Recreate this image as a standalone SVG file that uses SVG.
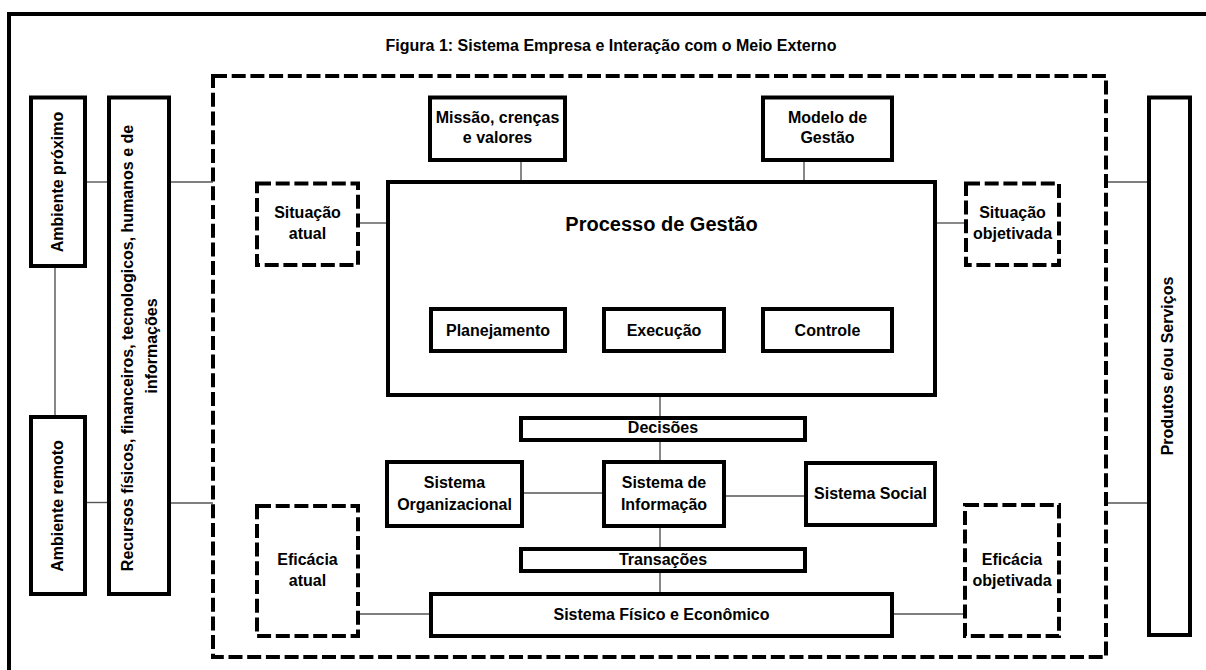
<svg xmlns="http://www.w3.org/2000/svg" width="1206" height="670" viewBox="0 0 1206 670">
<style>
.box{fill:#fff;stroke:#000;stroke-width:4}
.dash{fill:#fff;stroke:#000;stroke-width:4;stroke-dasharray:14 4.7}
.frame{fill:none;stroke:#000;stroke-width:4}
.con line{stroke:#555;stroke-width:1.4}
text{font-family:"Liberation Sans",Arial,sans-serif;font-weight:bold;font-size:16px;fill:#000;text-anchor:middle}
.big{font-size:20px}
</style>
<rect width="1206" height="670" fill="#fff"/>
<rect class="frame" x="9" y="14" width="1215" height="680"/>
<text x="611" y="51">Figura 1: Sistema Empresa e Interação com o Meio Externo</text>
<g class="con">
<line x1="85" y1="182" x2="109" y2="182"/>
<line x1="169" y1="182" x2="213" y2="182"/>
<line x1="55" y1="266" x2="55" y2="417"/>
<line x1="85" y1="502.5" x2="109" y2="502.5"/>
<line x1="169" y1="503" x2="213" y2="503"/>
<line x1="358" y1="223" x2="388" y2="223"/>
<line x1="935" y1="223" x2="966" y2="223"/>
<line x1="521" y1="160" x2="521" y2="182"/>
<line x1="804" y1="160" x2="804" y2="182"/>
<line x1="1106" y1="182" x2="1149" y2="182"/>
<line x1="1106" y1="503" x2="1149" y2="503"/>
<line x1="565" y1="330" x2="604" y2="330"/>
<line x1="724" y1="330" x2="763" y2="330"/>
<line x1="660" y1="395" x2="660" y2="418"/>
<line x1="660" y1="440" x2="660" y2="462"/>
<line x1="522" y1="493" x2="604" y2="493"/>
<line x1="724" y1="496" x2="806" y2="496"/>
<line x1="660" y1="526" x2="660" y2="549"/>
<line x1="660" y1="571" x2="660" y2="594"/>
<line x1="358" y1="614" x2="431" y2="614"/>
<line x1="892" y1="614" x2="965" y2="614"/>
</g>
<g id="empresa"><rect class="dash" x="213" y="76" width="893" height="581" fill="none" style="fill:none"/></g>
<g id="ambiente-proximo"><rect class="box" x="31" y="97.5" width="54" height="168.5"/><text transform="translate(63,182) rotate(-90)">Ambiente próximo</text></g>
<g id="ambiente-remoto"><rect class="box" x="31" y="417" width="54" height="177"/><text transform="translate(63,506) rotate(-90)">Ambiente remoto</text></g>
<g id="recursos"><rect class="box" x="109" y="97.5" width="60" height="496.5"/><text transform="translate(133.3,348) rotate(-90)">Recursos físicos, financeiros, tecnologicos, humanos e de</text><text transform="translate(156.5,346) rotate(-90)">informações</text></g>
<g id="produtos"><rect class="box" x="1149" y="97.5" width="41" height="537.5"/><text transform="translate(1173.3,366) rotate(-90)">Produtos e/ou Serviços</text></g>
<g id="missao"><rect class="box" x="430" y="97.5" width="135" height="62.5"/><text x="497.5" y="123">Missão, crenças</text><text x="497.5" y="143">e valores</text></g>
<g id="modelo"><rect class="box" x="763" y="97.5" width="129" height="62.5"/><text x="827.5" y="123">Modelo de</text><text x="827.5" y="143">Gestão</text></g>
<g id="situacao-atual"><rect class="dash" x="257" y="183.5" width="101" height="81.5"/><text x="307.5" y="218">Situação</text><text x="307.5" y="239">atual</text></g>
<g id="situacao-objetivada"><rect class="dash" x="966" y="183.5" width="93" height="81.5"/><text x="1012.5" y="218">Situação</text><text x="1012.5" y="239">objetivada</text></g>
<g id="processo"><rect class="box" x="388" y="182" width="547" height="213"/><text class="big" x="661.5" y="231">Processo de Gestão</text></g>
<g id="planejamento"><rect class="box" x="431" y="309" width="134" height="42"/><text x="498" y="335.5">Planejamento</text></g>
<g id="execucao"><rect class="box" x="604" y="309" width="120" height="42"/><text x="664" y="335.5">Execução</text></g>
<g id="controle"><rect class="box" x="763" y="309" width="129" height="42"/><text x="827.5" y="335.5">Controle</text></g>
<g id="decisoes"><rect class="box" x="521" y="418" width="284" height="22"/><text x="663" y="433">Decisões</text></g>
<g id="sistema-organizacional"><rect class="box" x="387" y="462" width="135" height="64"/><text x="454.5" y="488">Sistema</text><text x="454.5" y="509.5">Organizacional</text></g>
<g id="sistema-informacao"><rect class="box" x="604" y="462" width="120" height="64"/><text x="664" y="488">Sistema de</text><text x="664" y="509.5">Informação</text></g>
<g id="sistema-social"><rect class="box" x="806" y="463" width="129" height="62"/><text x="870.5" y="498.5">Sistema Social</text></g>
<g id="transacoes"><rect class="box" x="521" y="549" width="284" height="22"/><text x="663" y="565">Transações</text></g>
<g id="eficacia-atual"><rect class="dash" x="257" y="506" width="101" height="130"/><text x="307.5" y="564.5">Eficácia</text><text x="307.5" y="586">atual</text></g>
<g id="sistema-fisico"><rect class="box" x="431" y="594" width="461" height="42"/><text x="661.5" y="620">Sistema Físico e Econômico</text></g>
<g id="eficacia-objetivada"><rect class="dash" x="965" y="505" width="94" height="131"/><text x="1012" y="564.5">Eficácia</text><text x="1012" y="586">objetivada</text></g>
</svg>
